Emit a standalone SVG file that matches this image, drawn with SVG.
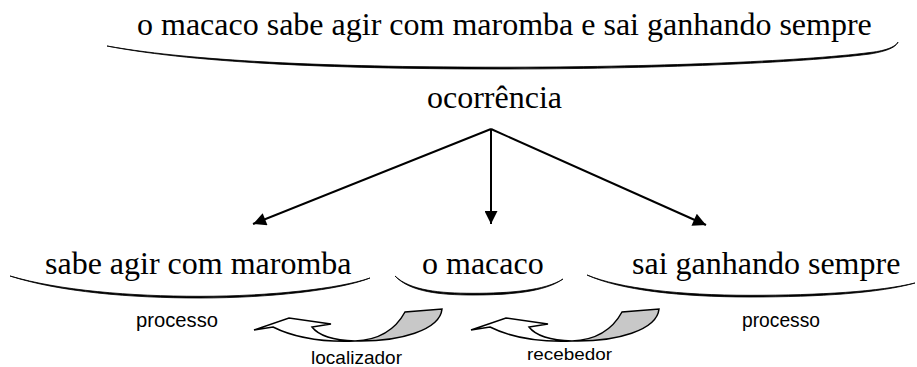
<svg xmlns="http://www.w3.org/2000/svg" width="917" height="367" viewBox="0 0 917 367">
<style>
.brace{fill:#000;stroke:#000;stroke-width:0.8;stroke-linejoin:round}
.conn{stroke:#000;stroke-width:2;fill:none}
.ribbon{stroke:#000;stroke-width:1.5;stroke-linejoin:miter}
</style>
<defs>
<marker id="ah" viewBox="0 0 10 10" refX="10" refY="5" markerWidth="8.5" markerHeight="6.5" markerUnits="strokeWidth" orient="auto">
<path d="M0,0 L10,5 L0,10 Z" fill="#000"/>
</marker>
<g id="curved">
<path class="ribbon" fill="#fff" d="M355,341 Q305,343 273,327 L254,330 L289,318 L331,324 L312,327 Q322,340 355,341 Z"/>
<path class="ribbon" fill="#c8c8c8" d="M405,312 Q390,339.5 355,341 C400,342 440,330 442,309 Z"/>
</g>
</defs>

<g id="top">
<text x="137" y="35" font-family="Liberation Serif" font-size="32">o macaco sabe agir com maromba e sai ganhando sempre</text>
<path class="brace" d="M107,46 C200,64 350,69 500,69 C650,69 800,63 870,54 C888,51 896,47 898,42 C896,46 888,50.5 870,52.5 C800,61.5 650,67.2 500,67.2 C350,67.2 200,62.5 107,46 Z"/>
</g>

<g id="ocorrencia">
<text x="427" y="108" font-family="Liberation Serif" font-size="32">ocorrência</text>
</g>

<g id="connectors">
<line class="conn" x1="491" y1="129" x2="253" y2="224" marker-end="url(#ah)"/>
<line class="conn" x1="491" y1="129" x2="491" y2="224" marker-end="url(#ah)"/>
<line class="conn" x1="491" y1="129" x2="706" y2="225" marker-end="url(#ah)"/>
</g>

<g id="sabe">
<text x="45" y="274" font-family="Liberation Serif" font-size="32">sabe agir com maromba</text>
<path class="brace" d="M10,276 C60,292 130,298 200,298 C270,298 340,290 370,278 C340,288.5 270,296.3 200,296.3 C130,296.3 60,290.5 10,276 Z"/>
</g>

<g id="macaco">
<text x="422" y="274" font-family="Liberation Serif" font-size="32">o macaco</text>
<path class="brace" d="M395,276 C410,292 440,295 473,295 C510,295 545,292 563,279 C545,290.5 510,293.3 473,293.3 C440,293.3 410,290.5 395,276 Z"/>
</g>

<g id="sai">
<text x="632" y="274" font-family="Liberation Serif" font-size="32">sai ganhando sempre</text>
<path class="brace" d="M587,275 C620,290 680,297 750,297 C820,297 880,293 915,283 C880,291.5 820,295.3 750,295.3 C680,295.3 620,288.5 587,275 Z"/>
</g>

<g id="processo-left">
<text x="136" y="327" font-family="Liberation Sans" font-size="20" textLength="82" lengthAdjust="spacingAndGlyphs">processo</text>
</g>
<g id="processo-right">
<text x="742" y="327" font-family="Liberation Sans" font-size="20" textLength="78" lengthAdjust="spacingAndGlyphs">processo</text>
</g>

<g id="localizador">
<use href="#curved"/>
<text x="311" y="364" font-family="Liberation Sans" font-size="19" textLength="91" lengthAdjust="spacingAndGlyphs">localizador</text>
</g>

<g id="recebedor">
<use href="#curved" transform="translate(217,0)"/>
<text x="527" y="360" font-family="Liberation Sans" font-size="17" textLength="85" lengthAdjust="spacingAndGlyphs">recebedor</text>
</g>
</svg>
